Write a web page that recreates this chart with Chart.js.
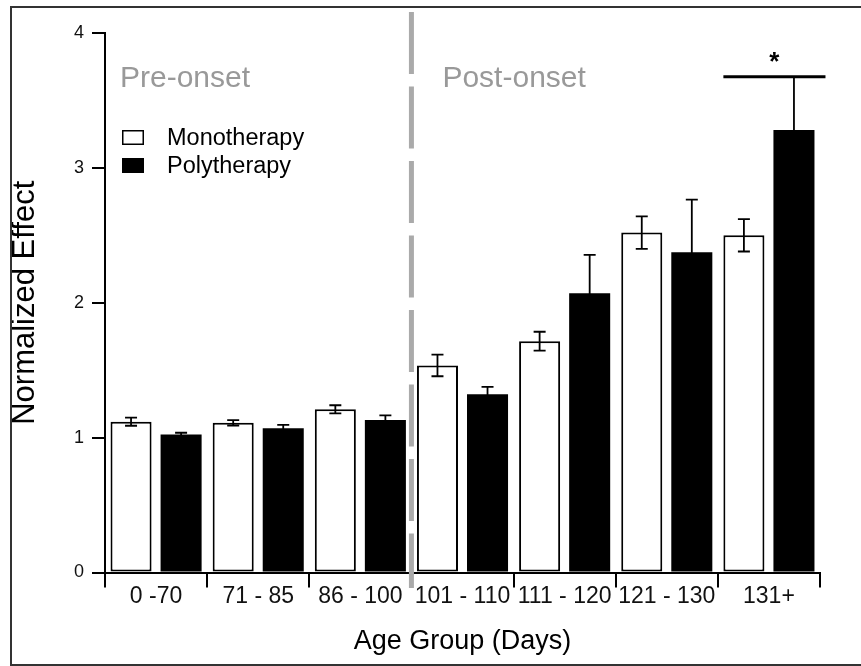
<!DOCTYPE html>
<html>
<head>
<meta charset="utf-8">
<script src="https://cdn.jsdelivr.net/npm/chart.js@4.4.1/dist/chart.umd.min.js"></script>
<style>
  html, body { margin: 0; padding: 0; background: #fff; }
  canvas { display: block; }
</style>
</head>
<body>
<canvas id="chart" width="861" height="666"></canvas>
<script>
const ageGroups = ['0 -70', '71 - 85', '86 - 100', '101 - 110', '111 - 120', '121 - 130', '131+'];
const monoValues = [1.118, 1.11, 1.21, 1.535, 1.715, 2.52, 2.50];
const monoErrors = [0.03, 0.02, 0.03, 0.08, 0.07, 0.12, 0.12];
const polyValues = [1.024, 1.069, 1.13, 1.322, 2.07, 2.375, 3.28];
const polyErrors = [0.012, 0.025, 0.035, 0.055, 0.285, 0.39, 0.395];
const yTicks = [0, 1, 2, 3, 4];
const phaseLabels = ['Pre-onset', 'Post-onset'];
const onsetIndex = 3; // first post-onset group
const sigIndex = 6;   // group marked with *

const FONT = '"Liberation Sans", Arial, Helvetica, sans-serif';

// white page + outer frame
const framePlugin = {
    id: 'frame',
    beforeDraw: (chart) => {
        const ctx = chart.ctx;
        ctx.save();
        ctx.fillStyle = '#fff';
        ctx.fillRect(0, 0, chart.width, chart.height);
        ctx.restore();
    },
    afterDraw: (chart) => {
        const ctx = chart.ctx;
        ctx.save();
        ctx.strokeStyle = '#333';
        ctx.lineWidth = 2;
        ctx.strokeRect(11, 7, 900, 658);
        ctx.restore();
    }
};

// onset divider and phase captions
const onsetPlugin = {
    id: 'onset',
    beforeDatasetsDraw: (chart) => {
        const { ctx, scales: { x } } = chart;
        const xPos = (x.getPixelForValue(onsetIndex - 1) + x.getPixelForValue(onsetIndex)) / 2;
        ctx.save();
        ctx.strokeStyle = '#aaa';
        ctx.lineWidth = 5;
        ctx.setLineDash([62, 12.5]);
        ctx.beginPath();
        ctx.moveTo(xPos, 12);
        ctx.lineTo(xPos, 588);
        ctx.stroke();
        ctx.setLineDash([]);
        ctx.fillStyle = '#999';
        ctx.font = '30px ' + FONT;
        ctx.textBaseline = 'alphabetic';
        ctx.fillText(phaseLabels[0], 120, 87);
        ctx.fillText(phaseLabels[1], xPos + 31, 87);
        ctx.restore();
    }
};

// symmetric error bars, significance bar, legend
const errorPlugin = {
    id: 'errors',
    afterDatasetsDraw: (chart) => {
        const { ctx, scales: { y } } = chart;
        const errs = [monoErrors, polyErrors];
        ctx.save();
        ctx.strokeStyle = '#000';
        ctx.lineWidth = 1.8;
        chart.data.datasets.forEach((ds, di) => {
            const meta = chart.getDatasetMeta(di);
            meta.data.forEach((bar, i) => {
                const v = ds.data[i];
                const e = errs[di][i];
                const top = y.getPixelForValue(v + e);
                const bot = y.getPixelForValue(v - e);
                ctx.beginPath();
                ctx.moveTo(bar.x, top);
                ctx.lineTo(bar.x, bot);
                ctx.moveTo(bar.x - 6, top);
                ctx.lineTo(bar.x + 6, top);
                ctx.moveTo(bar.x - 6, bot);
                ctx.lineTo(bar.x + 6, bot);
                ctx.stroke();
            });
        });

        const monoBar = chart.getDatasetMeta(0).data[sigIndex];
        const polyBar = chart.getDatasetMeta(1).data[sigIndex];
        const sigY = y.getPixelForValue(polyValues[sigIndex] + polyErrors[sigIndex]);
        const x1 = monoBar.x - monoBar.width / 2;
        const x2 = polyBar.x + polyBar.width / 2 + 11;
        ctx.lineWidth = 3;
        ctx.beginPath();
        ctx.moveTo(x1, sigY);
        ctx.lineTo(x2, sigY);
        ctx.stroke();
        ctx.fillStyle = '#000';
        ctx.font = 'bold 26px ' + FONT;
        ctx.textAlign = 'center';
        ctx.fillText('*', (x1 + x2) / 2, sigY - 7);

        ctx.textAlign = 'left';
        ctx.font = '23.5px ' + FONT;
        chart.data.datasets.forEach((ds, di) => {
            const by = 130 + di * 28;
            ctx.fillStyle = ds.backgroundColor;
            ctx.fillRect(122, by, 22, 15);
            ctx.lineWidth = 1.5;
            ctx.strokeRect(122.75, by + 0.75, 20.5, 13.5);
            ctx.fillStyle = '#000';
            ctx.fillText(ds.label, 167, by + 15);
        });
        ctx.restore();
    }
};

new Chart(document.getElementById('chart'), {
    type: 'bar',
    data: {
        labels: ageGroups,
        datasets: [
            {
                label: 'Monotherapy',
                data: monoValues,
                backgroundColor: '#fff',
                borderColor: '#000',
                borderWidth: 2,
                borderSkipped: false
            },
            {
                label: 'Polytherapy',
                data: polyValues,
                backgroundColor: '#000',
                borderColor: '#000',
                borderWidth: 0,
                borderSkipped: false
            }
        ]
    },
    options: {
        responsive: false,
        animation: false,
        devicePixelRatio: 1,
        categoryPercentage: 0.98,
        barPercentage: 0.82,
        layout: { padding: { left: 11, top: 33, right: 41, bottom: 0 } },
        plugins: {
            legend: { display: false },
            tooltip: { enabled: false }
        },
        scales: {
            x: {
                afterFit: (scale) => { scale.height = 93.5; },
                grid: {
                    offset: true,
                    drawOnChartArea: false,
                    drawTicks: true,
                    tickLength: 15,
                    color: '#000',
                    lineWidth: 2
                },
                border: { display: true, color: '#000', width: 2 },
                ticks: {
                    color: '#111',
                    padding: -2,
                    maxRotation: 0,
                    autoSkip: false,
                    font: { family: FONT, size: 23, lineHeight: 1 }
                },
                title: {
                    display: true,
                    text: 'Age Group (Days)',
                    color: '#000',
                    font: { family: FONT, size: 27 },
                    padding: { top: 0, bottom: 8 }
                }
            },
            y: {
                min: 0,
                max: 4,
                afterFit: (scale) => { scale.width = 94; },
                afterBuildTicks: (scale) => { scale.ticks = yTicks.map(v => ({ value: v })); },
                grid: {
                    drawOnChartArea: false,
                    drawTicks: true,
                    tickLength: 13,
                    color: '#000',
                    lineWidth: 2
                },
                border: { display: true, color: '#000', width: 2 },
                ticks: {
                    color: '#111',
                    padding: 8,
                    font: { family: FONT, size: 18 }
                },
                title: {
                    display: true,
                    text: 'Normalized Effect',
                    color: '#000',
                    font: { family: FONT, size: 31, lineHeight: 1 },
                    padding: { top: -1, bottom: 0 }
                }
            }
        }
    },
    plugins: [framePlugin, onsetPlugin, errorPlugin]
});
</script>
</body>
</html>
